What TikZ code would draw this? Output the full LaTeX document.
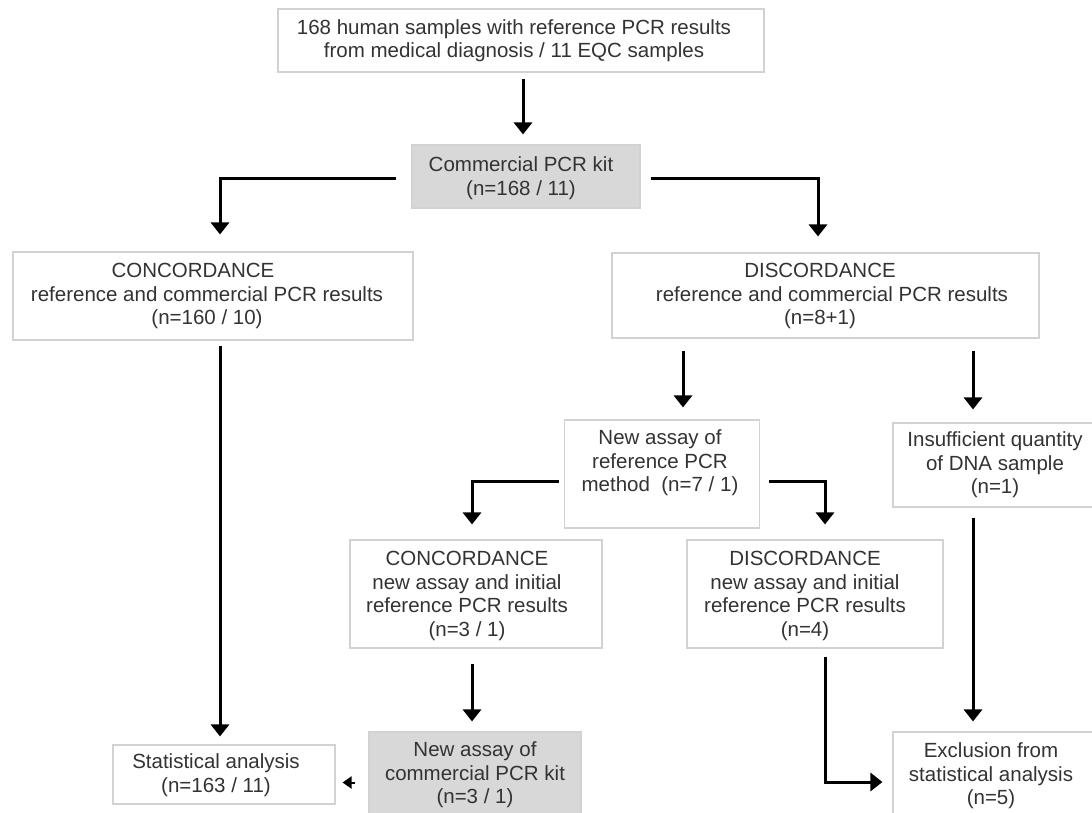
\documentclass[tikz,border=0pt]{standalone}
\usepackage{fontspec}
\setmainfont{Liberation Sans}
\usetikzlibrary{arrows.meta,calc}
\definecolor{txtc}{HTML}{333333}
\definecolor{brd}{HTML}{D2D2D2}
\definecolor{fillg}{HTML}{D8D8D8}
\begin{document}
\begin{tikzpicture}[x=1pt,y=-1pt,
  txt/.style={text=txtc,font=\fontsize{20.5}{23.5}\selectfont,align=center,inner sep=0pt},
  box/.style={draw=brd,line width=1.1pt,fill=white,inner sep=0pt},
  gbox/.style={box,fill=fillg},
  conn/.style={draw=black,line width=3pt,-{Triangle[width=18pt,length=12pt]}},
  small/.style={draw=black,line width=2pt,-{Triangle[width=12pt,length=9pt]}}]
\clip (0,0) rectangle (1092,812);
\fill[white] (0,0) rectangle (1092,812);
% boxes
\node[box,minimum width=486,minimum height=63] (top) at (521,40.5) {};
\node[txt] (topt) at (514,40.5)
  {168 human samples with reference PCR results\\from medical diagnosis / 11 EQC samples};
\node[gbox,minimum width=228,minimum height=63] (kit) at (526,176.5) {};
\node[txt] (kitt) at (521,178)
  {Commercial PCR kit\\(n=168 / 11)};
\node[box,minimum width=400,minimum height=88] (conc1) at (213,296) {};
\node[txt] (conc1t) at (207,296)
  {CONCORDANCE\kern28pt\\reference and commercial PCR results\\(n=160 / 10)};
\node[box,minimum width=427,minimum height=85] (disc1) at (825.5,295.5) {};
\node[txt] (disc1t) at (820,296)
  {DISCORDANCE\\\kern24pt reference and commercial PCR results\\(n=8+1)};
\node[box,minimum width=195,minimum height=108] (na) at (662,474) {};
\node[txt] (nat) at (660,463)
  {New assay of\\reference PCR\\method~~(n=7 / 1)};
\node[box,minimum width=204,minimum height=84] (insuff) at (995,465) {};
\node[txt] (insufft) at (995,465)
  {Insufficient quantity\\of DNA sample\\(n=1)};
\node[box,minimum width=252,minimum height=108] (conc2) at (476,594) {};
\node[txt] (conc2t) at (467,596)
  {CONCORDANCE\\new assay and initial\\reference PCR results\\(n=3 / 1)};
\node[box,minimum width=256,minimum height=108] (disc2) at (815,594) {};
\node[txt] (disc2t) at (805,596)
  {DISCORDANCE\\new assay and initial\\reference PCR results\\(n=4)};
\node[box,minimum width=222,minimum height=59] (stat) at (224,774.5) {};
\node[txt] (statt) at (216,775)
  {Statistical analysis\\(n=163 / 11)};
\node[gbox,minimum width=212,minimum height=86] (kit2) at (475,775) {};
\node[txt] (kit2t) at (475,775)
  {New assay of\\commercial PCR kit\\(n=3 / 1)};
\node[box,minimum width=204,minimum height=86] (excl) at (995,775) {};
\node[txt] (exclt) at (991,776)
  {Exclusion from\\statistical analysis\\(n=5)};
% connectors
\draw[conn,shorten <=6pt,shorten >=10pt] ([xshift=2]top.south) -- ([xshift=2]top.south |- kit.north);
\draw[conn,shorten <=15pt,shorten >=17pt] ([yshift=-1.5]kit.west) -| ([xshift=7]conc1.north);
\draw[conn,shorten <=10pt,shorten >=16pt] ([yshift=-1.5]kit.east) -| ([xshift=-7.5]disc1.north);
\draw[conn,shorten <=5pt,shorten >=8pt] ([xshift=7]conc1.south) -- ([xshift=7]conc1.south |- stat.north);
\draw[conn,shorten <=12pt,shorten >=12pt] ([xshift=21]na.north |- disc1.south) -- ([xshift=21]na.north);
\draw[conn,shorten <=12pt,shorten >=13pt] ([xshift=-22]insuff.north |- disc1.south) -- ([xshift=-22]insuff.north);
\draw[conn,shorten <=5pt,shorten >=15pt] ([yshift=-7]na.west) -| ([xshift=-4]conc2.north);
\draw[conn,shorten <=9pt,shorten >=15pt] ([yshift=-7]na.east) -| ([xshift=10]disc2.north);
\draw[conn,shorten <=10pt,shorten >=10pt] ([xshift=-22]insuff.south) -- ([xshift=-22]insuff.south |- excl.north);
\draw[conn,shorten <=15pt,shorten >=10pt] ([xshift=-4]conc2.south) -- ([xshift=-4]conc2.south |- kit2.north);
\draw[conn,shorten <=8pt,shorten >=10pt] ([xshift=10]disc2.south) |- ([yshift=-7]excl.west);
\draw[small,shorten <=13pt,shorten >=7pt] ([yshift=-7.5]kit2.west) -- ([yshift=-7.5]kit2.west -| stat.east);
\end{tikzpicture}
\end{document}
